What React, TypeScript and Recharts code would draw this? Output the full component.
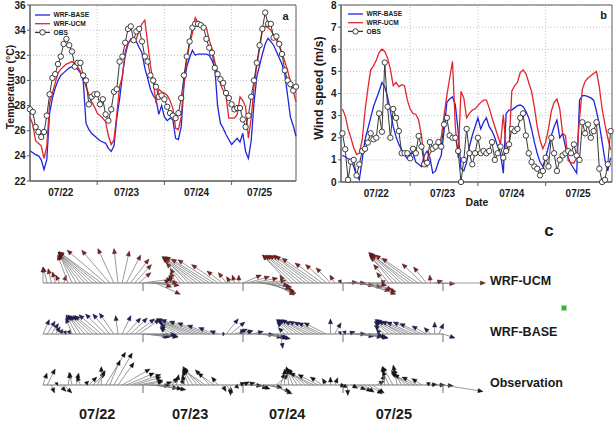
import React from 'react';
import {
  LineChart,
  Line,
  XAxis,
  YAxis,
  CartesianGrid,
  ReferenceLine,
  ReferenceArea,
  Legend,
  ScatterChart,
  Scatter,
} from 'recharts';

const FONT = '"Liberation Sans", Arial, Helvetica, sans-serif';
const INK = '#1a1a1a';
const FRAME = '#5a5a5a';
const GRID = '#c2c2c2';
const BLUE = '#1f24e0';
const RED = '#e3262b';
const OBS_LINE = '#383838';

// ---- shared time axis (hours from 07/22 00:00) ----
const dayLabels = ['07/22', '07/23', '07/24', '07/25'];
const dayBreaks = [24, 48, 72];
const tempLabelHours = [11, 34.5, 59.5, 82];
const windLabelHours = [12, 35.5, 60, 83.5];
const tempTicks = [22, 24, 26, 28, 30, 32, 34, 36];
const windTicks = [0, 1, 2, 3, 4, 5, 6, 7, 8];

// ---- (a) 2-m temperature, hourly (°C) ----
const tempObs = [
  27.7, 27.5, 26.3, 25.9, 25.5, 25.9, 27.2, 28.9, 30.2, 30.5,
  31.3, 31.9, 32.9, 33.3, 32.8, 32.3, 31.1, 31.4, 31.4, 30.4,
  30.0, 28.1, 28.7, 28.9, 28.9, 28.1, 28.5, 27.3, 26.8, 27.7,
  29.1, 29.3, 31.5, 31.9, 33.0, 34.1, 34.3, 33.2, 33.9, 34.1,
  33.1, 31.9, 31.5, 30.4, 30.0, 29.5, 28.7, 28.8, 28.5, 27.9,
  27.4, 27.2, 27.0, 27.4, 28.6, 30.4, 31.9, 33.1, 34.2, 34.5,
  34.5, 34.4, 34.2, 33.3, 32.6, 32.2, 31.0, 30.5, 30.1, 29.8,
  29.0, 28.6, 28.1, 27.7, 27.8, 27.8, 26.9, 26.3, 27.2, 28.7,
  30.0, 31.4, 32.8, 34.1, 35.4, 34.5, 34.5, 33.4, 33.5, 32.9,
  32.1, 30.8, 30.0, 29.7, 29.2, 29.5,
];
const tempBase = [
  24.4, 24.25, 24.1, 24.0, 23.7, 22.9, 23.7, 27.4, 28.6, 29.4,
  30.0, 30.4, 30.6, 30.8, 31.0, 31.1, 31.0, 30.9, 30.6, 30.0,
  26.6, 26.1, 25.8, 25.6, 25.4, 25.2, 25.1, 25.0, 24.6, 24.35,
  24.8, 27.0, 28.5, 30.4, 32.0, 32.9, 33.3, 33.3, 33.1, 32.6,
  32.2, 31.0, 30.2, 29.3, 28.8, 28.5, 27.3, 28.0, 27.1, 26.8,
  27.0, 26.9, 25.4, 25.3, 26.3, 29.7, 31.1, 31.8, 32.4, 32.0,
  32.1, 32.1, 32.1, 32.1, 32.0, 31.6, 31.0, 28.0, 26.6, 26.2,
  25.7, 25.3, 24.9, 25.15, 25.4, 25.1, 25.8, 24.35, 23.8, 25.2,
  28.2, 30.3, 31.2, 32.1, 32.9, 33.35, 33.1, 32.8, 32.3, 31.8,
  31.3, 30.5, 28.8, 27.1, 26.4, 25.55,
];
const tempUcm = [
  27.1, 26.5, 25.2, 25.0, 24.8, 23.8, 24.75, 28.2, 29.0, 29.8,
  30.6, 30.9, 31.1, 31.3, 31.4, 31.5, 31.3, 31.1, 30.7, 30.2,
  29.5, 28.9, 28.3, 27.9, 27.4, 27.2, 27.0, 26.7, 25.6, 24.9,
  25.3, 27.3, 29.5, 30.3, 32.3, 33.0, 33.2, 33.2, 33.3, 34.0,
  34.5, 34.8, 33.0, 31.2, 29.9, 28.2, 29.3, 29.1, 29.0, 28.8,
  28.4, 27.8, 26.2, 26.1, 27.1, 29.9, 31.6, 32.9, 33.75, 35.0,
  34.6, 34.4, 34.3, 34.2, 33.2, 32.5, 31.5, 30.6, 29.7, 29.2,
  28.8, 27.0, 27.0, 27.0, 27.3, 28.7, 28.4, 27.9, 25.4, 27.0,
  29.5, 31.2, 32.5, 34.0, 34.3, 34.2, 34.0, 33.6, 33.2, 32.7,
  32.2, 31.5, 30.8, 29.9, 29.2, 28.3,
];

// ---- (b) 10-m wind speed, hourly (m/s) ----
const windObs = [
  2.2, 1.48, 0.1, 0.92, 1.0, 0.3, 0.8, 1.4, 1.5, 1.78,
  2.2, 1.93, 2.0, 3.1, 2.27, 5.4, 3.4, 2.0, 3.3, 2.9,
  2.3, 1.3, 1.3, 1.3, 1.07, 1.5, 1.3, 2.08, 1.6, 0.8,
  0.87, 1.8, 1.5, 1.6, 1.8, 1.6, 2.6, 2.9, 2.1, 2.0,
  2.0, 1.4, 0.0, 1.0, 2.4, 1.3, 0.8, 1.3, 2.0, 1.3,
  1.4, 1.3, 1.4, 1.8, 1.0, 1.3, 1.6, 1.1, 1.4, 1.7,
  2.4, 2.3, 2.4, 2.9, 3.1, 2.1, 1.3, 0.9, 0.7, 0.6,
  0.3, 0.5, 1.1, 0.7, 2.0, 1.3, 0.5, 1.0, 1.2, 1.3,
  1.4, 1.3, 1.7, 1.2, 1.0, 2.7, 2.2, 2.6, 2.0, 2.3,
  2.7, 0.6, 0.0, 0.1, 0.8, 2.3,
];
const windBase = [
  1.2, 1.14, 1.05, 1.02, 0.7, 0.3, 0.1, 1.0, 1.9, 2.4,
  2.9, 3.4, 3.75, 4.1, 4.5, 4.3, 3.85, 3.2, 2.5, 2.05,
  1.7, 1.45, 1.22, 1.05, 1.3, 1.3, 0.9, 0.8, 0.7, 1.2,
  1.4, 1.1, 0.4, 0.5, 0.9, 1.2, 2.3, 3.6, 3.75, 3.85,
  3.5, 2.3, 0.6, 0.5, 0.9, 1.6, 2.1, 2.5, 2.9, 2.4,
  2.7, 2.9, 2.5, 2.3, 2.0, 1.6, 1.3, 0.4, 3.1, 3.25,
  3.25, 3.35, 3.45, 3.48, 3.4, 3.2, 2.9, 2.4, 1.8, 1.3,
  0.9, 0.7, 1.1, 1.6, 2.1, 2.5, 2.8, 2.0, 2.2, 1.6,
  1.1, 0.8, 0.6, 0.4, 3.7, 3.9, 3.9, 3.86, 3.8, 3.7,
  3.2, 2.6, 1.8, 1.0, 0.5, 1.1,
];
const windUcm = [
  3.3, 3.0, 2.4, 2.0, 1.55, 1.25, 1.3, 1.9, 3.2, 4.2,
  5.06, 5.25, 5.5, 5.85, 6.0, 5.9, 5.6, 5.1, 4.35, 4.5,
  4.3, 4.4, 4.35, 3.7, 3.3, 3.1, 3.05, 2.8, 2.1, 0.9,
  0.7, 1.3, 1.45, 1.5, 1.6, 2.0, 3.0, 3.9, 4.7, 5.45,
  2.5, 1.1, 4.1, 3.8, 2.9, 3.1, 3.25, 3.3, 3.45, 3.6,
  3.7, 3.7, 3.35, 2.9, 2.5, 2.1, 1.7, 3.05, 1.45, 1.45,
  4.1, 4.35, 4.5, 4.95, 5.06, 4.9, 4.5, 4.1, 3.4, 2.5,
  1.9, 1.5, 1.8, 2.4, 3.2, 3.6, 3.75, 3.3, 2.2, 2.1,
  0.95, 0.87, 0.85, 1.1, 2.9, 4.2, 4.55, 4.7, 4.8, 4.9,
  5.0, 4.3, 3.3, 2.6, 2.0, 1.45,
];

// ---- (c) hourly wind vectors, eastward u / northward v (m/s) ----
const ucmU = [
  0, -0.5, -0.4, -0.4, -0.5, 0.3, -1.3, -1.6, -2.1, -2.8,
  -3.3, -3.8, -4.3, -4.8, -5.3, -4.8, -3.5, -2, -0.5, 0.9,
  1.8, 2.3, 2.1, 1.5, 3.6, 3.8, 3.5, 3.1, 1.5, 0.6,
  0.5, -0.4, -0.8, -1.3, -2.3, -3, -3.8, -4.4, -4.8, -5,
  -4.8, -4.5, -3.3, -1.9, -1, -0.5, -0.3, 0, 2.3, 2.8,
  3.3, 3.8, 4, 3.8, 3.5, 2.8, 1.8, 1, -0.6, -3.3,
  -3.8, -4, -4.3, -4.5, -4.6, -4.8, -4.5, -3.4, -2.6, -1.8,
  -0.6, 0.3, 1.8, 2.3, 2.8, 3.3, 3.8, 4, 3.5, 2.5,
  1.3, 0.6, -1, -1.9, -2.8, -3.5, -4.1, -4.5, -4.8, -4.8,
  -4.5, -2.5, -1.6, -0.1, 1, 2, 5.3,
];
const ucmV = [
  2, 2, 1.8, 1.4, 1, 1, 3.5, 3.6, 3.6, 3.8,
  3.8, 3.8, 3.8, 3.9, 3.9, 4.1, 4.1, 4.3, 4.3, 4,
  3.5, 3, 2.3, 1.3, 0.5, 0.1, -0.3, -1.4, -0.5, 0.4,
  0.8, 1, 1.3, 1.8, 2.5, 3, 3.1, 3.3, 3.3, 3.3,
  3, 2.9, 2.3, 1.5, 1.3, 0.8, 1, 1, 1, 0.8,
  0.6, 0.3, -0.5, -1, -1.3, -1.5, -0.8, -0.4, 1, 3.5,
  3.5, 3.5, 3.5, 3.5, 3.5, 3.4, 3.1, 2.5, 2.3, 1.9,
  1, 0.4, 0.1, 0, -0.3, -0.5, -1, -1.4, -1.1, -0.8,
  -0.3, 0.3, 1.3, 2.3, 3.3, 3.5, 3.8, 3.8, 3.6, 3.5,
  3.1, 2.4, 2, 1, 0.3, -0.1, 0,
];
const baseU = [
  0.8, 1, 0.9, 0.6, 0.4, 0.3, 0.3, -0.8, -1.3, -1.6,
  -2, -2.3, -2.5, -2.8, -2.8, -2.5, -2.1, -1.8, -0.3, 1.1,
  1.8, 2.1, 2.5, 2.6, 3.1, 2.8, 2.5, 2.8, 2.3, 1.5,
  -1, -1.5, -2, -2.8, -3.5, -4.1, -4.5, -4.5, -4, -3.5,
  -2.8, -1.9, -1, 0.3, 1.5, 1.8, 1.6, 1.8, -0.3, 0.5,
  1.5, 2.3, 2.8, 3, 2.8, 2, 1.1, 0.3, -0.8, -1.5,
  -2.1, -2.5, -2.8, -3, -3.1, -3.1, -3, -3, -2.8, 0,
  0.8, 0.3, 0.4, 1, 1.8, 2.3, 2.8, 3, 2.5, 1.8,
  0.8, -0.5, -1.3, -1.8, -2.3, -2.8, -3.1, -3.4, -3.5, -3.4,
  -3.1, -2.8, -1.8, -0.8, 0, 0.6, 1.5,
];
const baseV = [
  1.8, 1.6, 1.3, 0.9, 0.6, 0.4, 0.5, 2, 2.4, 2.4,
  2.3, 2.3, 2.3, 2.3, 2.4, 2.5, 2.5, 2.6, 2.3, 2.3,
  2, 2, 1.9, 1.8, -0.3, -0.4, -0.3, -0.4, -0.3, -0.1,
  0.8, 1, 1.3, 1.6, 1.8, 1.9, 1.9, 1.8, 1.6, 1.4,
  1.1, 0.8, 0.4, 0, 1.9, 1.5, 0.6, 0.4, 0.6, 0.5,
  0.3, -0.1, -0.4, -0.5, -0.6, -0.5, -0.6, -1.8, 0.8, 1.5,
  1.8, 1.8, 1.8, 1.8, 1.6, 1.6, 1.5, 1.4, 1.4, 1.9,
  1.4, 0.3, 0.4, 0.3, 0, -0.3, -0.4, -0.5, -0.5, -0.4,
  -0.3, 0.6, 1.1, 1.5, 1.6, 1.8, 1.8, 1.6, 1.6, 1.5,
  1.5, 1.3, 1, 0.8, 1.5, 1.3, -0.5,
];
const obsU = [
  0.5, 1, 0.4, 0.3, 0.8, 1, 0.3, -0.4, 0.3, -0.5,
  0.5, 1, 1.5, 1, 0, 2.5, 1.3, 2.3, 2, 3.5,
  3.5, 3.8, 3.3, 3, 2.5, 2.8, 3.3, 3.8, 2.8, 1,
  1.3, 0.8, 0.3, 0.5, -0.3, -0.8, -1.3, -1.8, -2.3, -2.8,
  -1.8, -2, -0.8, 0.5, 0.8, 0, 0.5, 0.8, 0.8, 1,
  1.3, 1.5, 1.3, 2.3, 2.8, 2.5, 1.5, 0.5, 0, -0.3,
  -0.8, -1.3, -1.8, -2.3, -2.8, -3, -2.5, -1.5, -0.5, 0,
  0.4, 0.8, 0.5, 0.1, 0.8, 1.3, 1.5, 1.3, 1.8, 1.5,
  1, 0.5, -0.3, -0.8, -1.3, -0.5, -1, -1.8, -2.3, -2.5,
  -2, -1.3, 0.5, 0.8, 1.3, 1.8, 5,
];
const obsV = [
  1.5, 2, -1, 0.3, -0.8, -1, 1.5, 1.6, 1.5, 1.1,
  0.5, 1, 1.5, 1.8, 2.3, 4.1, 3.1, 4, 2.8, 2,
  1.5, 1.3, 1, 0.6, 0.4, -0.1, -0.4, -0.6, -0.5, 0.4,
  0.8, 1, 1.3, 0.8, 1.3, 1.8, 2, 2.3, 2.1, 1.9,
  1.9, 1.5, 1, -0.8, -1, -1.3, -0.4, 0.3, 0.4, 0.3,
  -0.1, -0.4, -0.5, -0.3, -0.8, -1.1, 1.3, 1.5, 2, 2.3,
  2, 2.1, 2.1, 2, 1.8, 1.5, 1.3, 1, 0.8, 1,
  0.9, -0.1, -0.3, -1.3, -0.4, -0.6, -0.8, -0.9, -1.1, -1,
  0.5, 1.3, 2.3, 1.8, 2.3, 2.5, 2, 1.8, 1.5, 1.3,
  1, 0.8, 0.3, 0.1, 0, -0.1, -0.8,
];
const stickDays = [24, 48, 72, 96];
const stickLabelHours = [13, 35.3, 58.6, 84.2];
const stickRowNames = ['Observation', 'WRF-BASE', 'WRF-UCM'];

const seriesInfo = [
  { key: 'base', name: 'WRF-BASE', color: BLUE, marker: false },
  { key: 'ucm', name: 'WRF-UCM', color: RED, marker: false },
  { key: 'obs', name: 'OBS', color: OBS_LINE, marker: true },
];

const tempRows = tempObs.map((obs, h) => ({ h, obs, base: tempBase[h], ucm: tempUcm[h] }));
const windRows = windObs.map((obs, h) => ({ h, obs, base: windBase[h], ucm: windUcm[h] }));

const vectorRows = (u: number[], v: number[], row: number) =>
  u.map((uu, h) => ({ h, row, u: uu, v: v[h] }));
const obsVectors = vectorRows(obsU, obsV, 0);
const baseVectors = vectorRows(baseU, baseV, 1);
const ucmVectors = vectorRows(ucmU, ucmV, 2);
const dayMarks = [0, 1, 2].flatMap((row) => stickDays.map((h) => ({ h, row })));
const rowAnchors = [0, 1, 2].map((row) => ({ h: 0, row }));

// ---------- pieces ----------
const dayTick = (labelHours: number[]) => (props: any) => {
  const { x, y, payload } = props;
  const axisY = y - 6;
  const v = payload.value;
  if (dayBreaks.includes(v)) {
    return <line x1={x} y1={axisY} x2={x} y2={axisY + 4} stroke={FRAME} strokeWidth={1} />;
  }
  const i = labelHours.indexOf(v);
  if (i < 0) return <g />;
  return (
    <text x={x} y={axisY + 14.5} textAnchor="middle" fontSize={10} fontWeight="bold" fontFamily={FONT} fill={INK}>
      {dayLabels[i]}
    </text>
  );
};

const LegendBlock = () => (
  <svg width={70} height={26} style={{ display: 'block', overflow: 'visible' }}>
    {seriesInfo.map((s, i) => {
      const cy = 3 + i * 8.7;
      return (
        <g key={s.key}>
          <line x1={0} x2={15} y1={cy} y2={cy} stroke={s.color} strokeWidth={1.3} />
          {s.marker && <circle cx={7.5} cy={cy} r={2.7} fill="#fff" stroke="#2a2a2a" strokeWidth={0.9} />}
          <text x={18.5} y={cy} dy="0.35em" fontSize={6.6} fontWeight="bold" fontFamily={FONT} fill={INK}>
            {s.name}
          </text>
        </g>
      );
    })}
  </svg>
);

const yTickStyle = { fontSize: 10, fontWeight: 'bold', fill: INK, fontFamily: FONT };

const VECTOR_PX_PER_MS = 8;
const stickShape = (headColor: string) => (props: any) => {
  const { cx, cy, payload } = props;
  if (cx == null || cy == null) return <g />;
  const x2 = cx + payload.u * VECTOR_PX_PER_MS;
  const y2 = cy - payload.v * VECTOR_PX_PER_MS;
  const dx = x2 - cx;
  const dy = y2 - cy;
  const len = Math.hypot(dx, dy);
  if (len < 0.5) return <g />;
  const ux = dx / len;
  const uy = dy / len;
  const hl = Math.min(5, len * 0.7);
  const hw = 2.1;
  const bx = x2 - ux * hl;
  const by = y2 - uy * hl;
  const pts = `${x2},${y2} ${bx - uy * hw},${by + ux * hw} ${bx + uy * hw},${by - ux * hw}`;
  return (
    <g>
      <line x1={cx} y1={cy} x2={bx} y2={by} stroke="#808080" strokeWidth={0.8} />
      <polygon points={pts} fill={headColor} stroke="#1a1a1a" strokeWidth={0.4} />
    </g>
  );
};

const dayMarkShape = (props: any) => {
  const { cx, cy } = props;
  if (cx == null || cy == null) return <g />;
  return <line x1={cx} y1={cy} x2={cx} y2={cy + 8} stroke="#6e6e6e" strokeWidth={1} />;
};

const emptyShape = () => <g />;

const RowLabelTick = (props: any) => {
  const { x, y, payload } = props;
  return (
    <text x={x} y={y} dy={2.4} textAnchor="start" fontSize={12.5} fontWeight="bold" fontFamily={FONT} fill={INK}>
      {stickRowNames[payload.value]}
    </text>
  );
};

const StickDateTick = (props: any) => {
  const { x, y, payload } = props;
  const i = stickLabelHours.indexOf(payload.value);
  if (i < 0) return <g />;
  return (
    <text x={x} y={y + 34} textAnchor="middle" fontSize={14.5} fontWeight="bold" fontFamily={FONT} fill={INK}>
      {dayLabels[i]}
    </text>
  );
};

const Overlay = ({ left, top, size, rotate, children }: any) => (
  <div
    style={{
      position: 'absolute',
      left,
      top,
      transform: `translate(-50%, -50%)${rotate ? ' rotate(-90deg)' : ''}`,
      fontFamily: FONT,
      fontWeight: 'bold',
      fontSize: size,
      lineHeight: 1,
      whiteSpace: 'nowrap',
      color: INK,
    }}
  >
    {children}
  </div>
);

const seriesLines = (dotR: number) => [
  <Line key="base" type="linear" dataKey="base" stroke={BLUE} strokeWidth={1.3} dot={false} isAnimationActive={false} />,
  <Line key="ucm" type="linear" dataKey="ucm" stroke={RED} strokeWidth={1.3} dot={false} isAnimationActive={false} />,
  <Line
    key="obs"
    type="linear"
    dataKey="obs"
    stroke={OBS_LINE}
    strokeWidth={1}
    dot={{ r: dotR, fill: '#fff', stroke: '#2a2a2a', strokeWidth: 0.9 }}
    isAnimationActive={false}
  />,
];

export default function App() {
  const tempXTicks = [...tempLabelHours, ...dayBreaks].sort((a, b) => a - b);
  const windXTicks = [...windLabelHours, ...dayBreaks].sort((a, b) => a - b);
  return (
    <div style={{ position: 'absolute', left: 0, top: 0, width: 614, height: 423, background: '#fff', overflow: 'hidden' }}>
      {/* (a) temperature */}
      <div style={{ position: 'absolute', left: 0, top: 0 }}>
        <LineChart width={300} height={205} data={tempRows} margin={{ top: 5, right: 4, bottom: 4, left: 0 }}>
          <CartesianGrid stroke={GRID} strokeDasharray="1 2" vertical={false} />
          {dayBreaks.map((d) => (
            <ReferenceLine key={d} x={d} stroke={GRID} strokeDasharray="1 2" />
          ))}
          <XAxis
            type="number"
            dataKey="h"
            domain={[0, 95]}
            ticks={tempXTicks}
            interval={0}
            tick={dayTick(tempLabelHours)}
            tickLine={false}
            tickSize={4}
            tickMargin={2}
            axisLine={{ stroke: FRAME }}
            height={20}
          />
          <YAxis
            type="number"
            domain={[22, 36]}
            ticks={tempTicks}
            interval={0}
            width={30}
            tickSize={3}
            tickMargin={1.5}
            axisLine={{ stroke: FRAME }}
            tickLine={{ stroke: FRAME }}
            tick={yTickStyle}
          />
          <ReferenceArea x1={0} x2={95} y1={22} y2={36} fill="none" stroke={FRAME} strokeWidth={1} />
          {seriesLines(2.7)}
          <Legend
            layout="vertical"
            align="center"
            verticalAlign="middle"
            wrapperStyle={{ left: 35, top: 12, width: 'auto', height: 'auto', lineHeight: 0 }}
            content={() => <LegendBlock />}
          />
        </LineChart>
      </div>

      {/* (b) wind speed */}
      <div style={{ position: 'absolute', left: 305, top: 0 }}>
        <LineChart width={309} height={210} data={windRows} margin={{ top: 5, right: 2, bottom: 0, left: 0 }}>
          <CartesianGrid stroke={GRID} strokeDasharray="1 2" vertical={false} />
          {dayBreaks.map((d) => (
            <ReferenceLine key={d} x={d} stroke={GRID} strokeDasharray="1 2" />
          ))}
          <XAxis
            type="number"
            dataKey="h"
            domain={[-0.5, 95.5]}
            ticks={windXTicks}
            interval={0}
            tick={dayTick(windLabelHours)}
            tickLine={false}
            tickSize={4}
            tickMargin={2}
            axisLine={{ stroke: FRAME }}
            height={28}
          />
          <YAxis
            type="number"
            domain={[0, 8]}
            ticks={windTicks}
            interval={0}
            width={36}
            tickSize={3}
            tickMargin={1.5}
            axisLine={{ stroke: FRAME }}
            tickLine={{ stroke: FRAME }}
            tick={yTickStyle}
          />
          <ReferenceArea x1={-0.5} x2={95.5} y1={0} y2={8} fill="none" stroke={FRAME} strokeWidth={1} />
          {seriesLines(2.7)}
          <Legend
            layout="vertical"
            align="center"
            verticalAlign="middle"
            wrapperStyle={{ left: 43, top: 11, width: 'auto', height: 'auto', lineHeight: 0 }}
            content={() => <LegendBlock />}
          />
        </LineChart>
      </div>

      {/* (c) wind vector stick plot */}
      <div style={{ position: 'absolute', left: 0, top: 215 }}>
        <ScatterChart width={614} height={208} margin={{ top: 68, right: 51, bottom: 0, left: 43 }}>
          <XAxis
            type="number"
            dataKey="h"
            domain={[0, 96]}
            ticks={stickLabelHours}
            interval={0}
            tick={StickDateTick}
            tickLine={false}
            axisLine={false}
            tickSize={0}
            tickMargin={0}
            height={38}
          />
          <YAxis type="number" dataKey="row" domain={[0, 2]} hide />
          <YAxis
            yAxisId="names"
            orientation="right"
            type="number"
            dataKey="row"
            domain={[0, 2]}
            ticks={[0, 1, 2]}
            interval={0}
            tick={RowLabelTick}
            tickLine={false}
            axisLine={false}
            tickSize={0}
            tickMargin={47}
            width={120}
          />
          {[0, 1, 2].map((row) => (
            <ReferenceLine
              key={row}
              segment={[
                { x: 0, y: row },
                { x: 96, y: row },
              ]}
              stroke="#a3a3a3"
              strokeWidth={1.6}
            />
          ))}
          <Scatter yAxisId="names" data={rowAnchors} shape={emptyShape} isAnimationActive={false} />
          <Scatter data={dayMarks} shape={dayMarkShape} isAnimationActive={false} />
          <Scatter data={ucmVectors} shape={stickShape('#8a1c1c')} isAnimationActive={false} />
          <Scatter data={baseVectors} shape={stickShape('#1d1d66')} isAnimationActive={false} />
          <Scatter data={obsVectors} shape={stickShape('#111111')} isAnimationActive={false} />
        </ScatterChart>
      </div>

      {/* titles and panel letters */}
      <Overlay left={9.5} top={87} size={10.5} rotate>
        Temperature (°C)
      </Overlay>
      <Overlay left={318.5} top={88} size={12.5} rotate>
        Wind speed (m/s)
      </Overlay>
      <Overlay left={477} top={201.5} size={10.5}>
        Date
      </Overlay>
      <Overlay left={285.5} top={16} size={11}>
        a
      </Overlay>
      <Overlay left={603.5} top={15} size={11}>
        b
      </Overlay>
      <Overlay left={549} top={229.5} size={17}>
        c
      </Overlay>
      <div
        style={{
          position: 'absolute',
          left: 561,
          top: 305,
          width: 4,
          height: 4,
          background: '#2fb52f',
          border: '1px solid #a8dca8',
        }}
      />
    </div>
  );
}
